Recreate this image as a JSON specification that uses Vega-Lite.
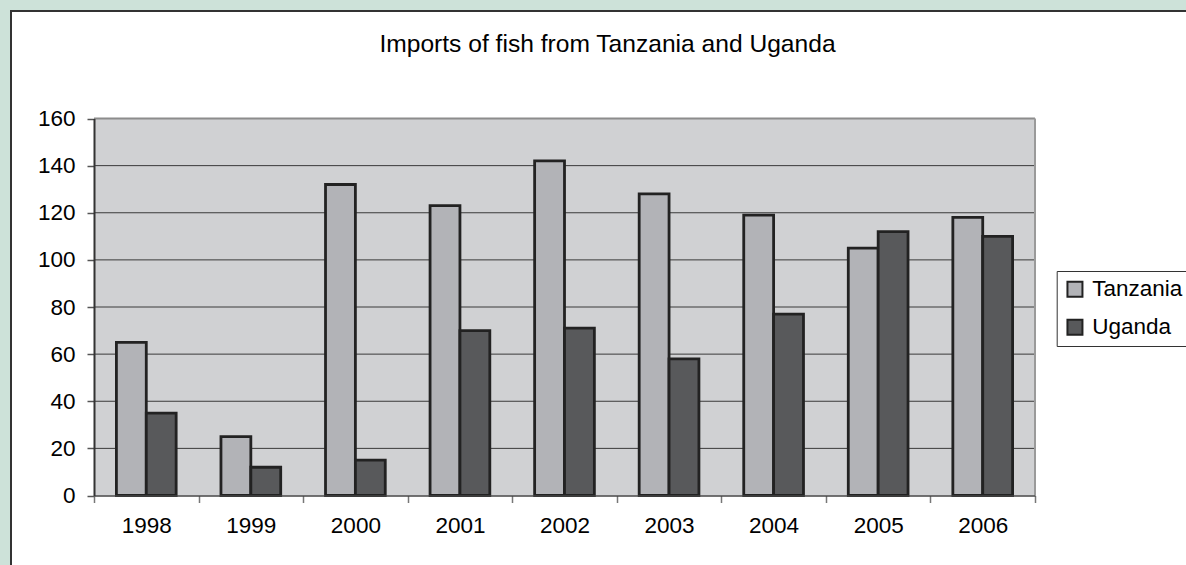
{
  "$schema": "https://vega.github.io/schema/vega-lite/v6.json",
  "autosize": {"type": "none"},
  "padding": {"left": 11, "top": 11, "right": 0, "bottom": 0},
  "width": 1193,
  "height": 560,
  "background": "#cde2d9",
  "title": {
    "text": "Imports of fish from Tanzania and Uganda",
    "anchor": "middle",
    "frame": "group",
    "offset": 0,
    "baseline": "alphabetic",
    "dy": 66,
    "font": "Liberation Sans",
    "fontSize": 24.6,
    "fontWeight": "normal",
    "color": "#000000"
  },
  "datasets": {
    "imports": [
      {"year": "1998", "country": "Tanzania", "value": 65},
      {"year": "1998", "country": "Uganda", "value": 35},
      {"year": "1999", "country": "Tanzania", "value": 25},
      {"year": "1999", "country": "Uganda", "value": 12},
      {"year": "2000", "country": "Tanzania", "value": 132},
      {"year": "2000", "country": "Uganda", "value": 15},
      {"year": "2001", "country": "Tanzania", "value": 123},
      {"year": "2001", "country": "Uganda", "value": 70},
      {"year": "2002", "country": "Tanzania", "value": 142},
      {"year": "2002", "country": "Uganda", "value": 71},
      {"year": "2003", "country": "Tanzania", "value": 128},
      {"year": "2003", "country": "Uganda", "value": 58},
      {"year": "2004", "country": "Tanzania", "value": 119},
      {"year": "2004", "country": "Uganda", "value": 77},
      {"year": "2005", "country": "Tanzania", "value": 105},
      {"year": "2005", "country": "Uganda", "value": 112},
      {"year": "2006", "country": "Tanzania", "value": 118},
      {"year": "2006", "country": "Uganda", "value": 110}
    ],
    "gridValues": [
      {"level": 20}, {"level": 40}, {"level": 60}, {"level": 80},
      {"level": 100}, {"level": 120}, {"level": 140}
    ]
  },
  "data": {"name": "imports"},
  "encoding": {
    "x": {
      "field": "year",
      "type": "ordinal",
      "scale": {"type": "band", "range": [83, 1024], "paddingInner": 0, "paddingOuter": 0},
      "axis": {
        "title": null,
        "orient": "bottom",
        "offset": -75.5,
        "tickBand": "extent",
        "tickSize": 7,
        "tickWidth": 1.5,
        "tickColor": "#777777",
        "domainColor": "#444444",
        "domainWidth": 1.5,
        "labelAngle": 0,
        "labelFont": "Liberation Sans",
        "labelFontSize": 22.5,
        "labelColor": "#000000",
        "labelPadding": 12,
        "grid": false,
        "zindex": 1
      }
    },
    "y": {
      "type": "quantitative",
      "scale": {"domain": [0, 160], "nice": false, "zero": true, "range": [484.5, 107.5]},
      "axis": {
        "title": null,
        "offset": -83,
        "values": [0, 20, 40, 60, 80, 100, 120, 140, 160],
        "tickSize": 7,
        "tickWidth": 1.5,
        "tickColor": "#555555",
        "domainColor": "#333333",
        "domainWidth": 2,
        "labelFont": "Liberation Sans",
        "labelFontSize": 22.5,
        "labelColor": "#000000",
        "labelPadding": 12,
        "grid": false,
        "zindex": 1
      }
    }
  },
  "layer": [
    {
      "data": {"values": [{}]},
      "mark": {"type": "rect", "fill": "#d0d1d3", "stroke": null},
      "encoding": {
        "x": {"datum": "1998", "type": "ordinal", "bandPosition": 0},
        "x2": {"datum": "2006", "bandPosition": 1},
        "y": {"datum": 0, "type": "quantitative"},
        "y2": {"datum": 160}
      }
    },
    {
      "data": {"name": "gridValues"},
      "mark": {"type": "rule", "color": "#3a3a3a", "strokeWidth": 1},
      "encoding": {
        "x": {"datum": "1998", "type": "ordinal", "bandPosition": 0},
        "x2": {"datum": "2006", "bandPosition": 1},
        "y": {"field": "level", "type": "quantitative"}
      }
    },
    {
      "data": {"values": [{}]},
      "mark": {"type": "rule", "color": "#8c8c8c", "strokeWidth": 2},
      "encoding": {
        "x": {"datum": "1998", "type": "ordinal", "bandPosition": 0},
        "x2": {"datum": "2006", "bandPosition": 1},
        "y": {"datum": 160, "type": "quantitative"}
      }
    },
    {
      "data": {"values": [{}]},
      "mark": {"type": "rule", "color": "#9a9a9a", "strokeWidth": 2},
      "encoding": {
        "x": {"datum": "2006", "type": "ordinal", "bandPosition": 1},
        "y": {"datum": 0, "type": "quantitative"},
        "y2": {"datum": 160}
      }
    },
    {
      "mark": {"type": "bar", "stroke": "#222222", "strokeWidth": 2.8},
      "encoding": {
        "y": {"field": "value", "type": "quantitative"},
        "xOffset": {
          "field": "country",
          "type": "nominal",
          "scale": {"domain": ["Tanzania", "Uganda"], "paddingInner": 0, "paddingOuter": 0.75}
        },
        "color": {
          "field": "country",
          "type": "nominal",
          "scale": {"domain": ["Tanzania", "Uganda"], "range": ["#b2b3b7", "#58595b"]},
          "legend": {
            "title": null,
            "orient": "none",
            "legendX": 1045.7,
            "legendY": 260,
            "fillColor": "#ffffff",
            "strokeColor": "#333333",
            "padding": 7,
            "symbolType": "square",
            "symbolSize": 225,
            "symbolStrokeColor": "#222222",
            "symbolStrokeWidth": 2,
            "symbolOpacity": 1,
            "labelFont": "Liberation Sans",
            "labelFontSize": 22.5,
            "labelColor": "#000000",
            "labelOffset": 6,
            "rowPadding": 14
          }
        }
      }
    }
  ],
  "config": {
    "view": {"fill": "#ffffff", "stroke": "#333333", "strokeWidth": 2},
    "legend": {"strokeWidth": 1}
  }
}
